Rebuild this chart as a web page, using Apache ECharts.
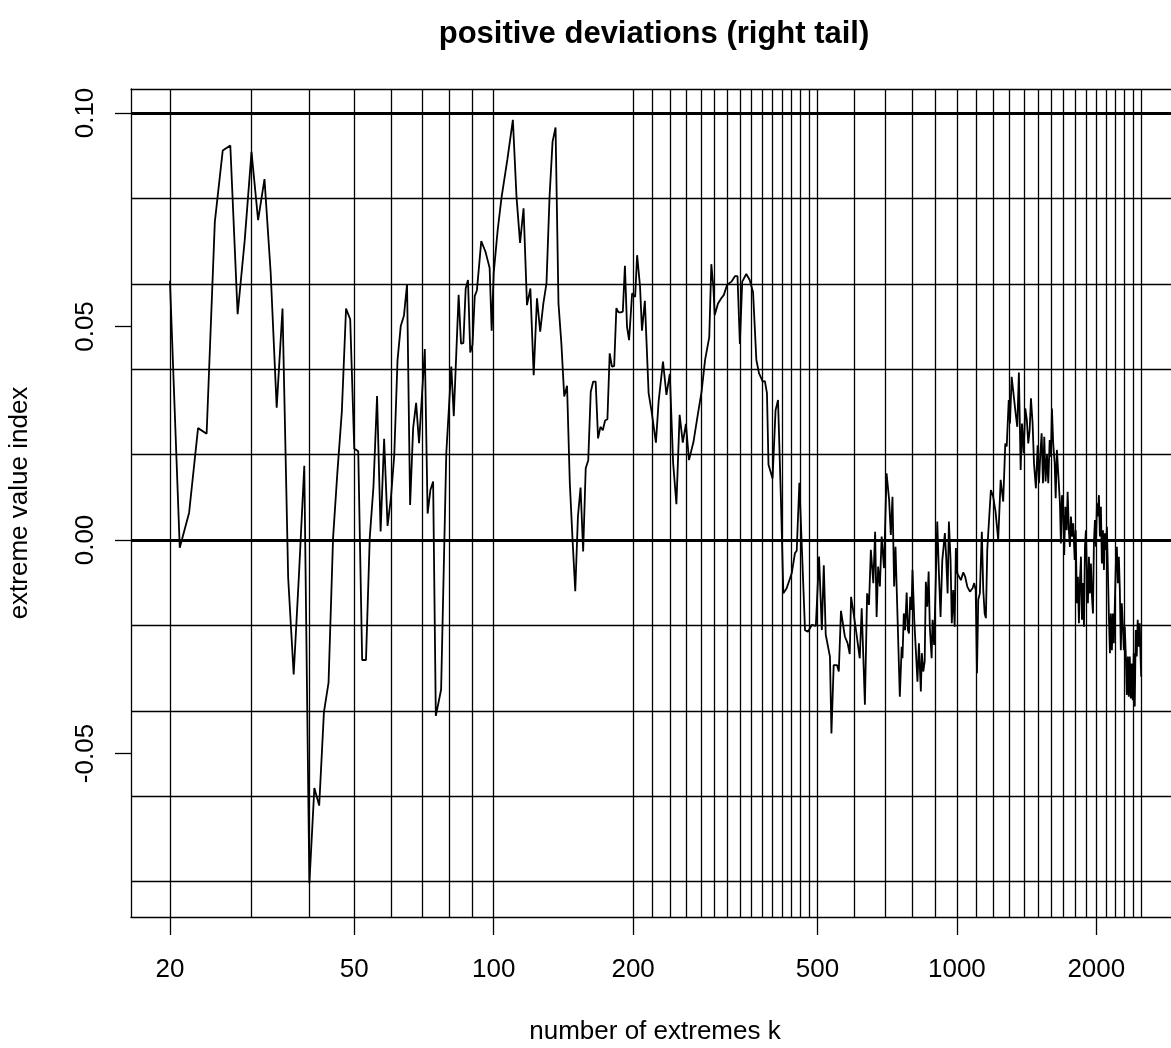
<!DOCTYPE html>
<html>
<head>
<meta charset="utf-8">
<script src="https://cdn.jsdelivr.net/npm/echarts@6/dist/echarts.min.js"></script>
<style>
html,body{margin:0;padding:0;background:#fff;}
#chart{width:1171px;height:1048px;}
</style>
</head>
<body>
<div id="chart"></div>
<script>
// number of extremes k
var kValues = [20,21,22,23,24,25,26,27,28,29,30,31,32,33,34,35,36,37,38,39,40,41,42,43,44,45,46,47,48,49,50,51,52,53,54,55,56,57,58,59,60,61,62,63,64,65,66,67,68,69,71,72,73,74,75,77,79,81,82,84,85,86,87,88,89,90,91,92,94,96,97,98,99,100,102,104,107,110,112,114,116,118,120,122,124,126,128,130,132,134,136,138,140,142,144,146,148,150,152,154,156,158,160,162,164,166,168,170,172,174,176,178,180,182,184,186,188,190,192,194,196,199,202,204,207,209,212,216,219,224,227,232,236,240,244,248,252,256,260,264,270,275,281,286,292,295,298,300,305,310,314,319,326,332,336,340,344,351,357,363,366,369,374,381,385,389,392,400,406,411,417,422,429,440,447,451,457,460,470,477,486,496,504,511,516,521,532,536,542,551,556,562,566,573,581,587,591,597,607,617,623,633,640,646,652,660,666,671,676,682,688,696,705,714,720,726,732,737,753,760,763,768,773,779,784,788,793,798,802,809,816,822,828,832,836,840,846,852,857,863,869,874,882,886,893,900,907,914,922,930,936,942,948,955,961,969,975,982,989,995,1002,1011,1020,1032,1042,1053,1067,1081,1090,1098,1105,1112,1121,1132,1140,1148,1155,1163,1174,1184,1198,1212,1228,1243,1259,1272,1281,1294,1302,1313,1323,1339,1350,1361,1373,1382,1393,1405,1416,1426,1436,1445,1457,1467,1481,1494,1504,1513,1524,1534,1544,1554,1565,1575,1586,1596,1604,1614,1626,1634,1644,1655,1669,1677,1686,1697,1705,1714,1726,1734,1746,1754,1763,1774,1783,1796,1805,1816,1825,1834,1844,1853,1862,1871,1881,1890,1899,1909,1918,1928,1937,1947,1957,1967,1976,1986,1996,2006,2016,2026,2036,2046,2056,2067,2077,2087,2098,2108,2119,2129,2140,2150,2161,2172,2182,2193,2204,2215,2226,2237,2248,2259,2270,2281,2293,2304,2316,2327,2339,2350,2362,2374,2386,2397,2409,2421,2433,2445,2457,2470,2482,2494,2500];
// extreme value index estimates
var xiValues = [0.0607,-0.0018,0.0064,0.0262,0.0249,0.0745,0.0912,0.0924,0.0529,0.0701,0.0909,0.0749,0.0845,0.0626,0.031,0.0542,-0.0089,-0.0315,-0.0077,0.0174,-0.0804,-0.0581,-0.0622,-0.0403,-0.0334,0.0005,0.0162,0.030,0.0542,0.0517,0.0214,0.0208,-0.0281,-0.0281,0.0005,0.0124,0.0337,0.002,0.0237,0.0033,0.0099,0.0199,0.0422,0.0501,0.0525,0.0599,0.0082,0.0262,0.0321,0.0227,0.0447,0.0062,0.0117,0.0137,-0.0412,-0.035,0.0203,0.0406,0.029,0.0574,0.046,0.0461,0.0589,0.0609,0.0439,0.0457,0.0571,0.0585,0.070,0.0675,0.0656,0.0637,0.049,0.0625,0.0726,0.0803,0.089,0.0984,0.0804,0.0696,0.0777,0.055,0.0589,0.0386,0.0566,0.0488,0.0554,0.0601,0.0804,0.0933,0.0966,0.0554,0.046,0.0336,0.0361,0.0133,0.0,-0.012,0.0055,0.0123,-0.0027,0.0168,0.0187,0.0347,0.0371,0.0371,0.0238,0.0265,0.0257,0.028,0.0283,0.0437,0.0406,0.0407,0.0543,0.0533,0.0533,0.0535,0.0642,0.05,0.0468,0.0578,0.0569,0.0667,0.0593,0.049,0.056,0.0344,0.0304,0.0228,0.0324,0.0418,0.034,0.0389,0.018,0.0084,0.0293,0.0228,0.0272,0.0187,0.023,0.0285,0.0347,0.0422,0.0475,0.0646,0.0593,0.0527,0.0554,0.0566,0.0574,0.0597,0.0605,0.0618,0.0618,0.0459,0.0605,0.0623,0.0609,0.0581,0.0578,0.0422,0.039,0.0371,0.0372,0.0344,0.0176,0.0144,0.0304,0.0328,0.0094,-0.0125,-0.0113,-0.0078,-0.0031,-0.0025,0.0134,0.0137,-0.0211,-0.0215,-0.0199,-0.0201,-0.0039,-0.0211,-0.0059,-0.0222,-0.0273,-0.0453,-0.0293,-0.0293,-0.0308,-0.0166,-0.0166,-0.0226,-0.0242,-0.0267,-0.0133,-0.0164,-0.0219,-0.0277,-0.016,-0.0386,-0.0125,-0.0152,-0.0023,-0.0101,0.0019,-0.018,-0.0062,-0.0109,0.0008,-0.0066,0.0156,0.0094,0.0012,0.0101,-0.0109,-0.0016,-0.0367,-0.025,-0.0277,-0.0172,-0.0211,-0.0123,-0.0211,-0.0219,-0.0133,-0.0164,-0.007,-0.0187,-0.0265,-0.0332,-0.0242,-0.03,-0.0355,-0.0265,-0.0308,-0.0285,-0.0098,-0.0156,-0.0074,-0.0203,-0.0277,-0.0187,-0.0246,-0.0101,0.0043,-0.007,-0.018,-0.0047,-0.0016,0.0016,-0.0039,-0.0125,0.0043,-0.0047,-0.0195,-0.0117,-0.0203,-0.0019,-0.0078,-0.0078,-0.0094,-0.0076,-0.0086,-0.0109,-0.0121,-0.0113,-0.0101,-0.0117,-0.0312,-0.014,-0.0125,0.0019,-0.0117,-0.0172,-0.0183,-0.0023,-0.0022,0.0117,0.0101,0.0066,0.0,0.0141,0.009,0.0226,0.0219,0.0328,0.0273,0.0382,0.0386,0.0297,0.0265,0.0392,0.0164,0.0273,0.0203,0.0308,0.0281,0.0226,0.0258,0.0332,0.0273,0.018,0.0121,0.0222,0.0133,0.0195,0.025,0.0133,0.0242,0.0137,0.0199,0.0133,0.0234,0.0195,0.0308,0.0226,0.018,0.0098,0.0211,0.0156,0.0086,-0.0008,0.0105,0.0055,-0.0035,0.0078,0.0023,0.0113,0.0016,-0.0016,0.0055,0.0008,0.0039,-0.0047,0.0023,-0.0148,-0.0086,-0.0195,-0.0094,-0.0039,-0.0187,-0.0101,-0.0203,-0.0016,0.0023,-0.0078,-0.0148,-0.0039,-0.0125,-0.0055,-0.0133,-0.0172,-0.0008,0.0047,-0.0016,0.0086,0.0055,0.0105,0.0008,0.0078,-0.0055,0.0023,-0.007,0.0016,-0.0023,0.0031,-0.0078,-0.018,-0.0265,-0.0172,-0.0258,-0.0172,-0.0242,-0.0148,-0.0055,-0.0016,-0.0101,-0.0039,-0.0117,-0.0258,-0.0148,-0.0195,-0.0258,-0.0203,-0.0273,-0.0363,-0.0273,-0.0367,-0.0273,-0.0371,-0.0289,-0.0375,-0.0265,-0.039,-0.0211,-0.0273,-0.0187,-0.025,-0.0195,-0.0289,-0.032];

// axis ticks / labels
var xTicks = [20, 50, 100, 200, 500, 1000, 2000];
var yTicks = [-0.05, 0, 0.05, 0.10];
// reference grid lines
var vGrid = [20,30,40,50,60,70,80,90,100,200,220,240,260,280,300,320,340,360,380,400,420,440,460,480,500,600,700,800,900,1000,1100,1200,1300,1400,1500,1600,1700,1800,1900,2000,2100,2200,2300,2400,2500];
var hGridThin = [-0.08,-0.06,-0.04,-0.02,0.02,0.04,0.06,0.08];
var hGridThick = [0, 0.10];

var seriesData = kValues.map(function (k, i) { return [k, xiValues[i]]; });

var FONT = '"Liberation Sans", Arial, Helvetica, sans-serif';
var BORDER = { show: true, onZero: false, lineStyle: { color: '#000', width: 1.3 } };
var markData = [];
vGrid.forEach(function (v) { markData.push({ xAxis: v, lineStyle: { color: '#000', width: 1.3, type: 'solid' } }); });
hGridThin.forEach(function (v) { markData.push({ yAxis: v, lineStyle: { color: '#000', width: 1.3, type: 'solid' } }); });
hGridThick.forEach(function (v) { markData.push({ yAxis: v, lineStyle: { color: '#000', width: 3, type: 'solid' } }); });

var chart = echarts.init(document.getElementById('chart'), null, { renderer: 'canvas' });
chart.setOption({
  backgroundColor: '#fff',
  animation: false,
  grid: {
    left: 131, top: 89, right: 0, height: 828,
    outerBoundsMode: 'none',
    containLabel: false,
    show: false
  },
  xAxis: [{
    type: 'log', logBase: 10,
    min: 16.48, max: 2899,
    position: 'bottom',
    axisLine: BORDER,
    splitLine: { show: false },
    minorTick: { show: false },
    axisTick: { show: true, customValues: xTicks, length: 18, lineStyle: { color: '#000', width: 1.3 } },
    axisLabel: { customValues: xTicks, fontFamily: FONT, fontSize: 26, color: '#000', margin: 40,
      formatter: function (v) { return String(Math.round(v)); } }
  }, {
    type: 'log', logBase: 10,
    min: 16.48, max: 2899,
    position: 'top',
    axisLine: BORDER,
    splitLine: { show: false },
    axisTick: { show: false },
    axisLabel: { show: false }
  }],
  yAxis: {
    type: 'value',
    min: -0.08829, max: 0.10562,
    name: 'extreme value index',
    nameLocation: 'middle',
    nameRotate: 90,
    nameGap: 98,
    nameTextStyle: { fontFamily: FONT, fontSize: 26, color: '#000' },
    axisLine: BORDER,
    splitLine: { show: false },
    axisTick: { show: true, customValues: yTicks, length: 16, lineStyle: { color: '#000', width: 1.3 } },
    axisLabel: { customValues: yTicks, rotate: 90, fontFamily: FONT, fontSize: 26, color: '#000', margin: 32,
      formatter: function (v) { return v.toFixed(2); } }
  },
  graphic: [{
    type: 'text', x: 654, y: 19,
    style: { text: 'positive deviations (right tail)', fontFamily: FONT, fontSize: 31, fontWeight: 'bold',
      fill: '#000', textAlign: 'center', textVerticalAlign: 'top' }
  }, {
    type: 'text', x: 655, y: 1019,
    style: { text: 'number of extremes k', fontFamily: FONT, fontSize: 26, fill: '#000',
      textAlign: 'center', textVerticalAlign: 'top' }
  }],
  series: [{
    type: 'line',
    xAxisIndex: 0,
    data: seriesData,
    showSymbol: false,
    symbol: 'none',
    lineStyle: { color: '#000', width: 1.8 },
    clip: true,
    markLine: {
      silent: true,
      symbol: ['none', 'none'],
      label: { show: false },
      animation: false,
      data: markData
    }
  }]
});
</script>
</body>
</html>
